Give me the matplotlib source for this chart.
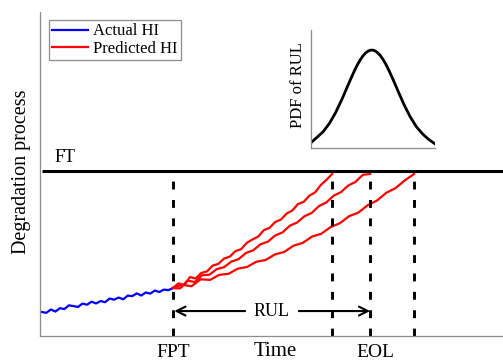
import numpy as np
import matplotlib
matplotlib.use("Agg")
import matplotlib.pyplot as plt

plt.rcParams['font.family'] = ['Liberation Serif', 'DejaVu Serif']

# key times (time axis 0..100) and the failure threshold
t_fpt = 28.7
t_ends = [63.1, 71.3, 80.8]   # where each predicted path hits FT
t_eol = 71.3
ft_level = 0.50

# actual health indicator up to FPT
blue_t = np.linspace(0.4, t_fpt, 30)
blue_y = [0.074, 0.0715, 0.0819, 0.0754, 0.0858, 0.0833, 0.0947, 0.0922, 0.0896, 0.1001,
          0.0965, 0.1060, 0.1004, 0.1079, 0.1043, 0.1158, 0.1122, 0.1187, 0.1131, 0.1246,
          0.1230, 0.1315, 0.1249, 0.1344, 0.1308, 0.1403, 0.1357, 0.1432, 0.1416, 0.1481]

# predicted paths after FPT
red1_y = [0.148, 0.1625, 0.1567, 0.1818, 0.1775, 0.1947, 0.1994, 0.2173, 0.2226, 0.2391,
          0.2449, 0.2619, 0.2680, 0.2875, 0.2980, 0.3068, 0.3268, 0.3338, 0.3520, 0.3593,
          0.3779, 0.3875, 0.4073, 0.4141, 0.4332, 0.4432, 0.4660, 0.4820, 0.500]
red2_y = [0.148, 0.1469, 0.1711, 0.1664, 0.1875, 0.1892, 0.2065, 0.2124, 0.2296, 0.2372,
          0.2562, 0.2645, 0.2832, 0.2911, 0.3102, 0.3196, 0.3403, 0.3503, 0.3694, 0.3798,
          0.4012, 0.4120, 0.4329, 0.4440, 0.4642, 0.4757, 0.4974, 0.500]
red3_y = [0.148, 0.1584, 0.1534, 0.1750, 0.1731, 0.1888, 0.1920, 0.2078, 0.2132, 0.2292,
          0.2347, 0.2518, 0.2594, 0.2787, 0.2874, 0.3068, 0.3157, 0.3362, 0.3482, 0.3699,
          0.3810, 0.4038, 0.4181, 0.4420, 0.4564, 0.4804, 0.500]
red_paths = [red1_y, red2_y, red3_y]

# RUL pdf (inset, axis fractions)
pdf_x = [0, 0.05, 0.10, 0.15, 0.20, 0.25, 0.30, 0.325, 0.35, 0.375, 0.40, 0.42, 0.44, 0.46,
         0.475, 0.49, 0.505, 0.52, 0.54, 0.56, 0.58, 0.605, 0.63, 0.655, 0.68, 0.70, 0.75,
         0.80, 0.85, 0.90, 0.95, 1.0]
pdf_y = [0.045, 0.092, 0.141, 0.211, 0.303, 0.414, 0.536, 0.596, 0.654, 0.707, 0.752, 0.782,
         0.805, 0.821, 0.828, 0.830, 0.828, 0.821, 0.805, 0.782, 0.752, 0.707, 0.654, 0.596,
         0.536, 0.487, 0.368, 0.264, 0.180, 0.119, 0.072, 0.035]

fig = plt.figure(figsize=(5.03, 3.6), dpi=100)
ax = fig.add_axes([40/503, 24/360, 463/503, 324/360])
ax.set_xlim(0, 100)
ax.set_ylim(0, 1)
for s in ['top', 'right']:
    ax.spines[s].set_visible(False)
for s in ['left', 'bottom']:
    ax.spines[s].set_color('#8c8c8c')
    ax.spines[s].set_linewidth(0.9)
ax.set_xticks([])
ax.set_yticks([])

ax.plot(blue_t, blue_y, color='#0000ff', lw=1.6, label='Actual HI')
for i, (ys, te) in enumerate(zip(red_paths, t_ends)):
    tt = np.linspace(t_fpt, te, len(ys))
    ax.plot(tt, ys, color='#ff0000', lw=1.6, label='Predicted HI' if i == 0 else None)

# failure threshold
ax.plot([0.4, 100], [ft_level + 0.008, ft_level + 0.008], color='black', lw=2.2, solid_capstyle='butt')
ax.text(3.2, 0.552, 'FT', fontsize=13, va='center', ha='left')

# vertical dashed markers
for tv in [t_fpt] + t_ends:
    ax.plot([tv, tv], [0, 0.488], color='black', lw=2.1, linestyle=(0, (2.7, 3.6)))

# RUL arrow
ax.annotate('', xy=(t_fpt + 0.3, 0.077), xytext=(44.3, 0.077),
            arrowprops=dict(arrowstyle='->', lw=1.5, mutation_scale=16, shrinkA=0, shrinkB=0))
ax.annotate('', xy=(t_eol, 0.077), xytext=(55.9, 0.077),
            arrowprops=dict(arrowstyle='->', lw=1.5, mutation_scale=16, shrinkA=0, shrinkB=0))
ax.text(50.1, 0.077, 'RUL', fontsize=13, ha='center', va='center')

trans = ax.get_xaxis_transform()
ax.text(t_fpt, -0.064, 'FPT', fontsize=14, ha='center', va='baseline', transform=trans, clip_on=False)
ax.text(72.4, -0.064, 'EOL', fontsize=14, ha='center', va='baseline', transform=trans, clip_on=False)
ax.text(50.8, -0.063, 'Time', fontsize=15, ha='center', va='baseline', transform=trans, clip_on=False)

fig.text(22/503, (360 - 172)/360, 'Degradation process', rotation=90, fontsize=14.5,
         ha='center', va='center')

leg = ax.legend(loc='upper left', bbox_to_anchor=(0.019, 0.975), fontsize=12,
                fancybox=False, framealpha=1, edgecolor='#8c8c8c', borderaxespad=0,
                handlelength=2.15, handletextpad=0.3, labelspacing=0.1, borderpad=0.2)
leg.get_frame().set_linewidth(0.9)

# inset pdf
ax2 = fig.add_axes([311/503, (360 - 148)/360, 124/503, 118/360])
ax2.plot(pdf_x, pdf_y, color='black', lw=2, solid_joinstyle='round')
ax2.set_xlim(0, 1)
ax2.set_ylim(0, 1)
for s in ['top', 'right']:
    ax2.spines[s].set_visible(False)
for s in ['left', 'bottom']:
    ax2.spines[s].set_color('#8c8c8c')
    ax2.spines[s].set_linewidth(0.9)
ax2.set_xticks([])
ax2.set_yticks([])
fig.text(297.5/503, (360 - 85)/360, 'PDF of RUL', rotation=90, fontsize=12,
         ha='center', va='center')

fig.savefig('out.png', dpi=100)
